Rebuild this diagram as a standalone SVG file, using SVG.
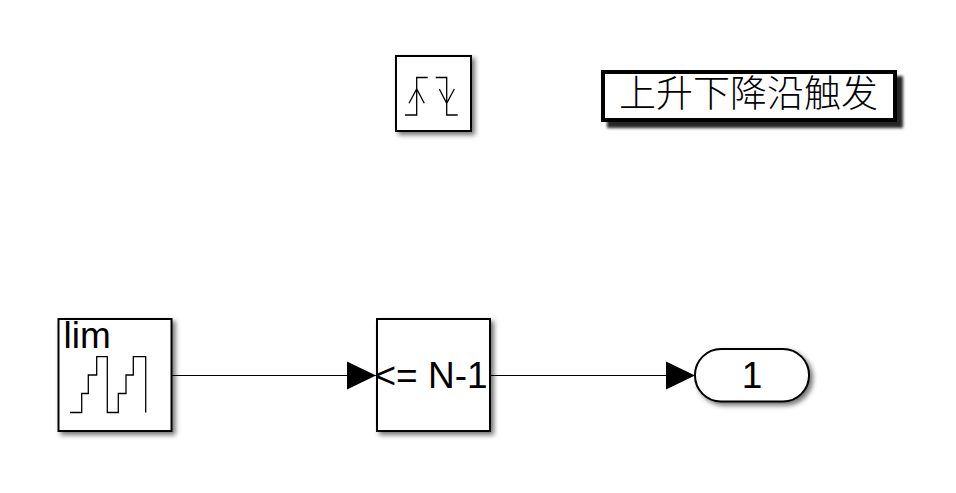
<svg xmlns="http://www.w3.org/2000/svg" width="956" height="493" viewBox="0 0 956 493">
  <style>
    .blk { fill: #fff; stroke: #000; stroke-width: 2; filter: url(#sh); }
    .glyph { fill: none; stroke: #000; stroke-width: 1.300; }
    .lbl { font-family: "Liberation Sans", Arial, sans-serif; font-size: 37px; fill: #000; }
    .wire { fill: none; stroke: #000; stroke-width: 1; }
  </style>
  <defs>
    <filter id="sh" x="-20%" y="-20%" width="145%" height="145%">
      <feDropShadow dx="3" dy="3" stdDeviation="2.500" flood-color="#000" flood-opacity="0.55"/>
    </filter>
    <filter id="shb" x="-5%" y="-20%" width="112%" height="160%">
      <feDropShadow dx="6" dy="6" stdDeviation="1.800" flood-color="#000" flood-opacity="0.85"/>
    </filter>
    <marker id="arr" markerUnits="userSpaceOnUse" markerWidth="30" markerHeight="30" refX="29" refY="15" orient="auto">
      <path d="M0 1 L29 15 L0 29 Z" fill="#000"/>
    </marker>
  </defs>
  <rect width="956" height="493" fill="#fff"/>
  <g id="connectors">
    <path class="wire" d="M172 375.500 H376" marker-end="url(#arr)"/>
    <path class="wire" d="M491 375.500 H695" marker-end="url(#arr)"/>
  </g>
  <g id="trigger">
    <rect class="blk" x="396" y="56" width="75" height="75"/>
    <path class="glyph" d="M405 115 H416.700 V77.500 H427.700 M409 103.300 L416.700 89 L424.300 103.300 M435.700 77.500 H446.700 V115 H457.700 M439.300 89 L446.700 103.300 L454.300 89"/>
  </g>
  <g id="annotation">
    <rect x="603" y="72" width="292" height="48" fill="#fff" stroke="#000" stroke-width="4" filter="url(#shb)"/>
    <text x="619" y="107" font-family="'Noto Sans CJK SC', sans-serif" font-weight="300" font-size="37" fill="#000">上升下降沿触发</text>
  </g>
  <g id="lim">
    <rect class="blk" x="58.500" y="319" width="113" height="112"/>
    <text class="lbl" x="63.500" y="348">lim</text>
    <path class="glyph" d="M70 412.500 H81.700 V393.500 H88.300 V375 H96.700 V356.700 H107.300 V412.500 H118.300 V393.500 H126 V375 H133.300 V356.700 H145.700 V412.500"/>
  </g>
  <g id="compare">
    <rect class="blk" x="377" y="319" width="113" height="112"/>
    <text class="lbl" x="374.500" y="387.500">&lt;= N-1</text>
  </g>
  <g id="outport">
    <rect class="blk" x="695" y="349" width="114" height="52.500" rx="26" ry="26"/>
    <text class="lbl" x="752" y="387.500" text-anchor="middle">1</text>
  </g>
</svg>
